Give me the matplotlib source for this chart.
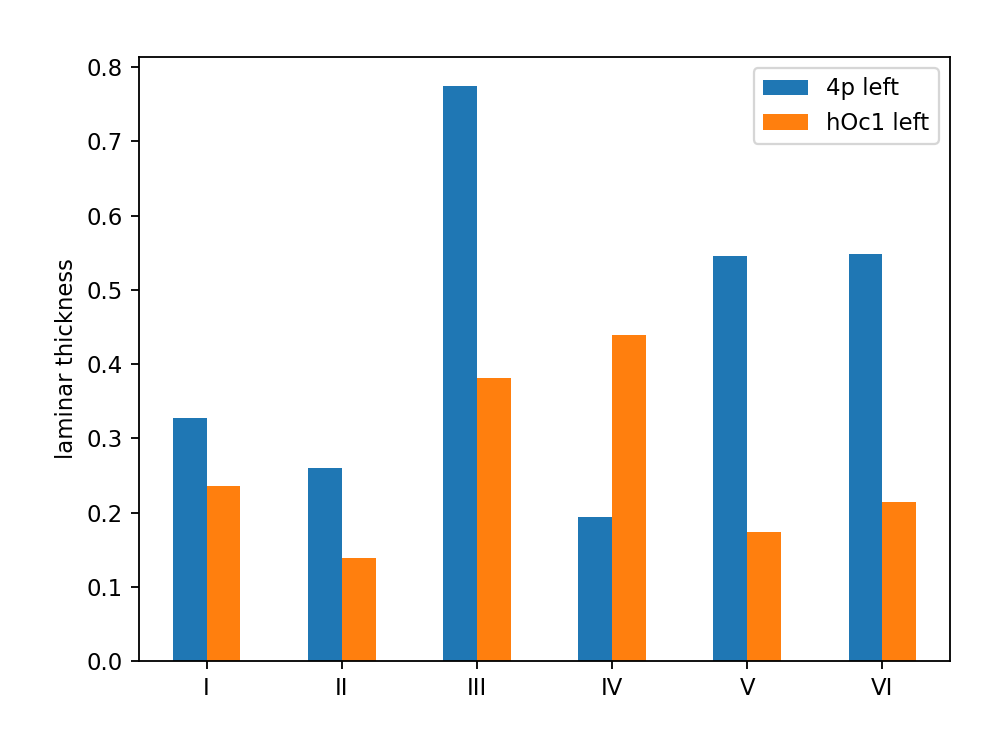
import numpy as np
import matplotlib
matplotlib.use("Agg")
import matplotlib.pyplot as plt

layers = ["I", "II", "III", "IV", "V", "VI"]
thick_4p = [0.328, 0.260, 0.775, 0.194, 0.546, 0.548]
thick_hoc1 = [0.236, 0.139, 0.381, 0.439, 0.174, 0.214]

DPI = 163.5
fig = plt.figure(figsize=(996 / DPI, 747 / DPI), dpi=DPI)
ax = fig.add_axes([139 / 996, 1 - 661 / 747, (950 - 139) / 996, (661 - 57) / 747])

x = np.arange(len(layers))
w = 0.25
ax.bar(x - w / 2, thick_4p, w, color="#1f77b4", label="4p left")
ax.bar(x + w / 2, thick_hoc1, w, color="#ff7f0e", label="hOc1 left")

ax.set_xticks(x)
ax.set_xticklabels(layers)
ax.set_xlim(-0.5, len(layers) - 0.5)
ax.set_ylabel("laminar thickness")
ax.legend(loc="upper right")

fig.savefig("out.png", dpi=DPI)
